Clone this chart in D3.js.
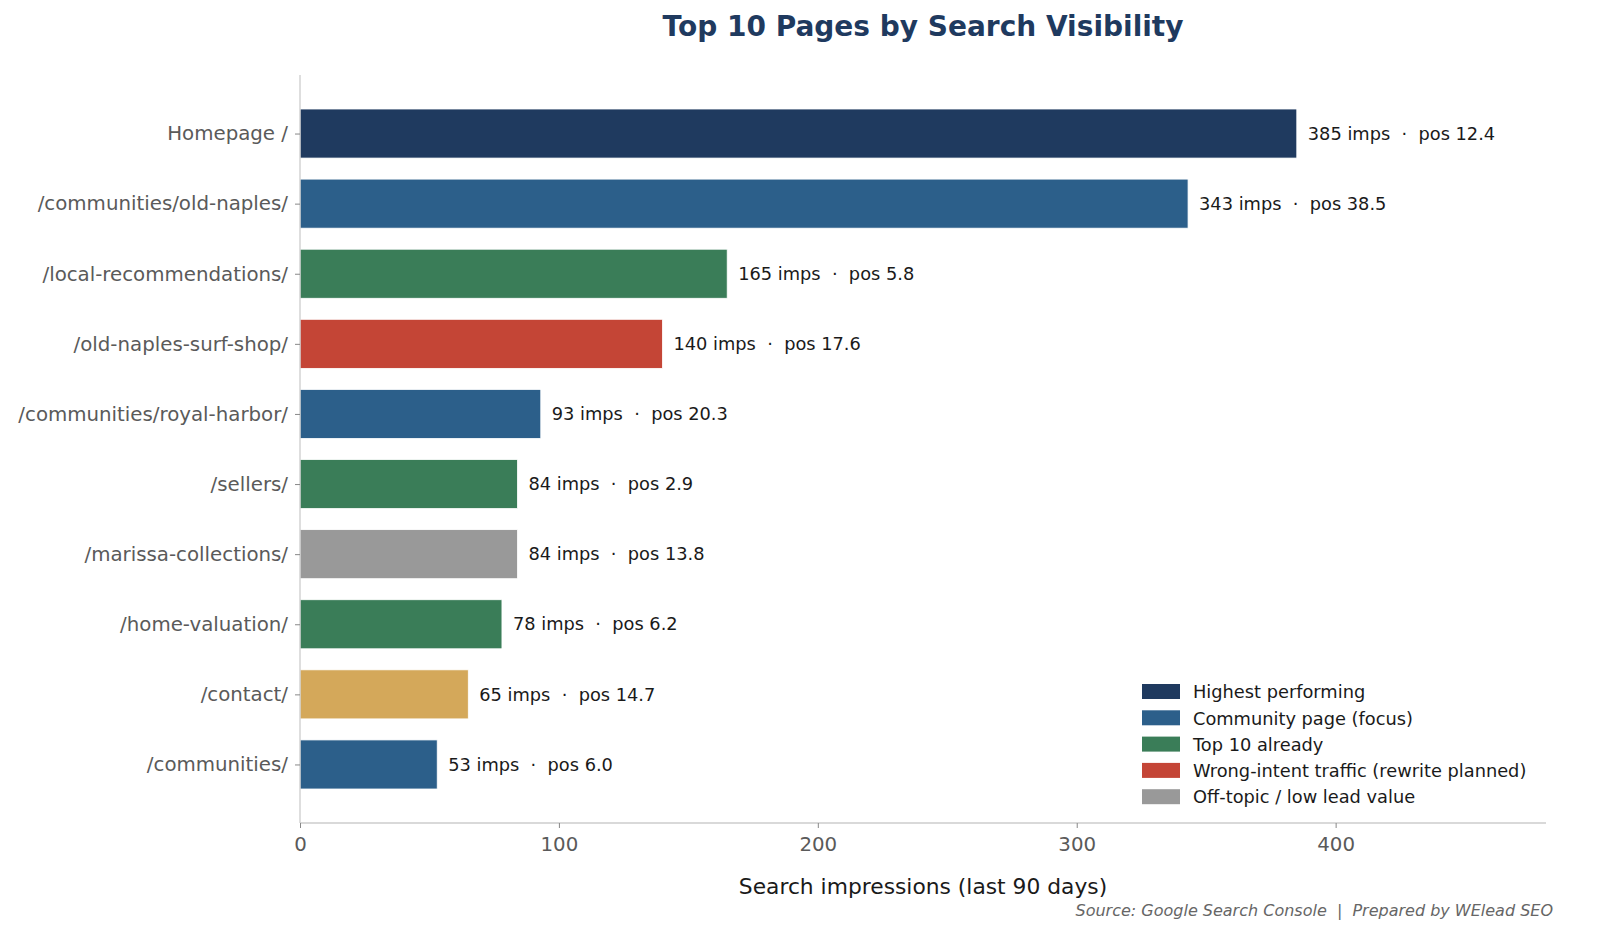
<!DOCTYPE html>
<html>
<head>
<meta charset="utf-8">
<script src="https://cdn.jsdelivr.net/npm/d3@7"></script>
<style>
  body { margin: 0; background: #fff; }
  text { font-family: "DejaVu Sans", sans-serif; }
</style>
</head>
<body>
<script>
// Chart data
const pages = ['Homepage /', '/communities/old-naples/', '/local-recommendations/', '/old-naples-surf-shop/',
    '/communities/royal-harbor/', '/sellers/', '/marissa-collections/', '/home-valuation/', '/contact/', '/communities/'];
const impressions = [385, 343, 165, 140, 93, 84, 84, 78, 65, 53];
const positions = [12.4, 38.5, 5.8, 17.6, 20.3, 2.9, 13.8, 6.2, 14.7, 6.0];
const groups = ['top', 'community', 'top10', 'wrong', 'community', 'top10', 'offtopic', 'top10', 'contact', 'community'];
const xTicks = [0, 100, 200, 300, 400];

const legendKeys = ['top', 'community', 'top10', 'wrong', 'offtopic'];
const legendLabels = ['Highest performing', 'Community page (focus)', 'Top 10 already',
    'Wrong-intent traffic (rewrite planned)', 'Off-topic / low lead value'];

const colors = {
    top: '#1f3a5f',
    community: '#2c5f8a',
    top10: '#3a7d58',
    wrong: '#c44536',
    offtopic: '#999999',
    contact: '#d4a85a'
};

const width = 1600, height = 952;
const margin = { top: 75, right: 54, bottom: 129, left: 300 };
const innerW = width - margin.left - margin.right;
const innerH = height - margin.top - margin.bottom;

const svg = d3.select('body').append('svg')
    .attr('width', width)
    .attr('height', height);

// Title
svg.append('text')
    .attr('x', margin.left + innerW / 2)
    .attr('y', 36)
    .attr('text-anchor', 'middle')
    .style('font-size', '28px')
    .style('font-weight', 'bold')
    .style('fill', '#1f3a5f')
    .text('Top 10 Pages by Search Visibility');

const g = svg.append('g')
    .attr('transform', `translate(${margin.left},${margin.top})`);

const x = d3.scaleLinear()
    .domain([0, d3.max(impressions) * 1.25])
    .range([0, innerW]);

// matplotlib-like y range: bars of height 0.7 with 5% margins
const n = pages.length;
const pad = (n - 1 + 0.7) * 0.05 + 0.35;
const y = d3.scaleLinear()
    .domain([-pad, n - 1 + pad])
    .range([0, innerH]);
const barH = y(0.7) - y(0);

// Bars
g.selectAll('.bar')
    .data(pages)
    .enter().append('rect')
    .attr('class', 'bar')
    .attr('x', x(0))
    .attr('y', (d, i) => y(i) - barH / 2)
    .attr('width', (d, i) => x(impressions[i]) - x(0))
    .attr('height', barH)
    .style('fill', (d, i) => colors[groups[i]])
    .style('stroke', '#ffffff')
    .style('stroke-width', 0.8);

// Value labels
g.selectAll('.val')
    .data(pages)
    .enter().append('text')
    .attr('class', 'val')
    .attr('x', (d, i) => x(impressions[i]) + 11)
    .attr('y', (d, i) => y(i))
    .attr('dy', '0.35em')
    .style('font-size', '17.8px')
    .style('fill', '#1a1a1a')
    .style('white-space', 'pre')
    .text((d, i) => `${impressions[i]} imps  \u00b7  pos ${positions[i].toFixed(1)}`);

// Y axis
const yAxis = g.append('g')
    .call(d3.axisLeft(y).tickValues(d3.range(n)).tickFormat(i => pages[i]).tickSize(5).tickPadding(7));
yAxis.select('.domain').attr('d', `M0,0V${innerH}`).style('stroke', '#cccccc').style('stroke-width', 1.3);
yAxis.selectAll('.tick line').style('stroke', '#888888');
yAxis.selectAll('.tick text').style('font-size', '19.8px').style('fill', '#5a5a5a');

// X axis
const xAxis = g.append('g')
    .attr('transform', `translate(0,${innerH})`)
    .call(d3.axisBottom(x).tickValues(xTicks).tickSize(5).tickPadding(9));
xAxis.select('.domain').attr('d', `M0,0H${innerW}`).style('stroke', '#cccccc').style('stroke-width', 1.3);
xAxis.selectAll('.tick line').style('stroke', '#888888');
xAxis.selectAll('.tick text').style('font-size', '19.8px').style('fill', '#5a5a5a');

// X axis label
svg.append('text')
    .attr('x', margin.left + innerW / 2)
    .attr('y', 894)
    .attr('text-anchor', 'middle')
    .style('font-size', '21.8px')
    .style('fill', '#1a1a1a')
    .text('Search impressions (last 90 days)');

// Source note
svg.append('text')
    .attr('x', 1553)
    .attr('y', 916)
    .attr('text-anchor', 'end')
    .style('font-size', '16px')
    .style('font-style', 'italic')
    .style('fill', '#666666')
    .style('white-space', 'pre')
    .text('Source: Google Search Console  |  Prepared by WElead SEO');

// Legend
const legend = svg.append('g')
    .attr('transform', 'translate(1142,684)');

const item = legend.selectAll('.item')
    .data(legendKeys)
    .enter().append('g')
    .attr('class', 'item')
    .attr('transform', (d, i) => `translate(0,${i * 26.3})`);

item.append('rect')
    .attr('width', 38)
    .attr('height', 15)
    .style('fill', d => colors[d]);

item.append('text')
    .attr('x', 51)
    .attr('y', 8)
    .attr('dy', '0.35em')
    .style('font-size', '17.8px')
    .style('fill', '#1a1a1a')
    .text((d, i) => legendLabels[i]);
</script>
</body>
</html>
